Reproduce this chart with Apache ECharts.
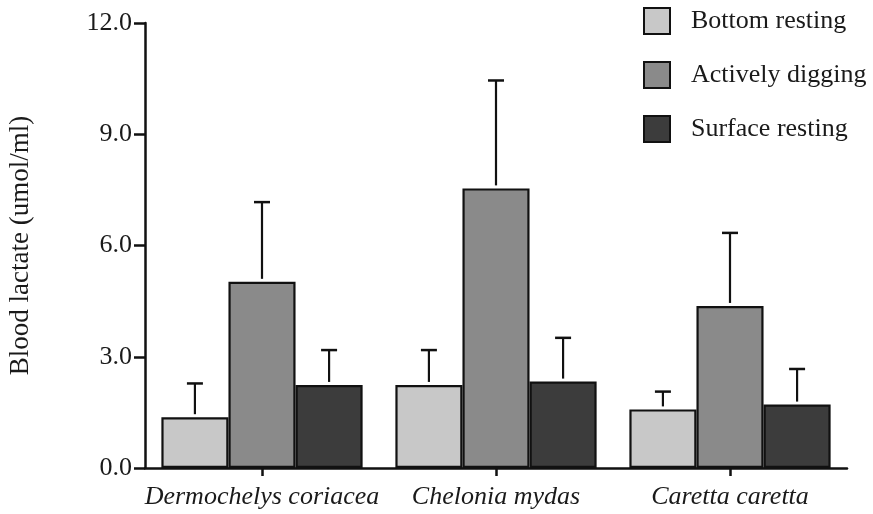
<!DOCTYPE html>
<html>
<head>
<meta charset="utf-8">
<script src="https://cdn.jsdelivr.net/npm/echarts@6/dist/echarts.min.js"></script>
<style>html,body{margin:0;padding:0;background:#fff;}#c{width:873px;height:514px;}</style>
</head>
<body>
<div id="c"></div>
<script>
const categories = ['Dermochelys coriacea', 'Chelonia mydas', 'Caretta caretta'];
const seriesNames = ['Bottom resting', 'Actively digging', 'Surface resting'];
const bottomResting = [1.37, 2.24, 1.58];
const activelyDigging = [5.02, 7.54, 4.37];
const surfaceResting = [2.24, 2.33, 1.71];
const bottomSD = [0.91, 0.94, 0.48];
const activeSD = [2.15, 2.91, 1.97];
const surfaceSD = [0.94, 1.18, 0.96];
const yTicks = [0, 3, 6, 9, 12];

const colors = ['#c8c8c8', '#8a8a8a', '#3c3c3c'];
const means = [bottomResting, activelyDigging, surfaceResting];
const sds = [bottomSD, activeSD, surfaceSD];
const FONT = '"Liberation Serif", "DejaVu Serif", serif';
const GAP = 0.14;

const chart = echarts.init(document.getElementById('c'));

const barSeries = seriesNames.map((n, i) => ({
  name: n,
  type: 'bar',
  data: means[i],
  barGap: '0%',
  barCategoryGap: (GAP * 100) + '%',
  itemStyle: { color: colors[i], borderColor: '#111', borderWidth: 2.2 },
  z: 2
}));

const errSeries = seriesNames.map((n, i) => ({
  type: 'custom',
  z: 3,
  silent: true,
  data: categories.map((c, k) => [k, means[i][k], means[i][k] + sds[i][k]]),
  renderItem: function (params, api) {
    const k = api.value(0);
    const base = api.coord([k, api.value(1)]);
    const top = api.coord([k, api.value(2)]);
    const band = api.size([1, 0])[0];
    const bw = band * (1 - GAP) / 3;
    const x = base[0] + (i - 1) * bw;
    const hw = 8;
    return {
      type: 'group',
      children: [
        { type: 'line', shape: { x1: x, y1: base[1] - 3, x2: x, y2: top[1] }, style: { stroke: '#111', lineWidth: 2.2 } },
        { type: 'line', shape: { x1: x - hw, y1: top[1], x2: x + hw, y2: top[1] }, style: { stroke: '#111', lineWidth: 2.5 } }
      ]
    };
  }
}));

chart.setOption({
  animation: false,
  backgroundColor: '#fff',
  grid: { left: 145, right: 26, top: 23, bottom: 46, containLabel: false, outerBoundsMode: 'none' },
  legend: {
    orient: 'vertical',
    left: 643,
    top: 7,
    padding: 0,
    itemWidth: 26,
    itemHeight: 26,
    itemGap: 26,
    icon: 'rect',
    data: seriesNames,
    textStyle: { fontFamily: FONT, fontSize: 26, color: '#1a1a1a', padding: [0, 0, 0, 16] }
  },
  xAxis: {
    type: 'category',
    data: categories,
    axisLine: { lineStyle: { color: '#111', width: 2.5 } },
    axisTick: { show: true, alignWithLabel: true, length: 8, lineStyle: { color: '#111', width: 2.5 } },
    axisLabel: { interval: 0, fontFamily: FONT, fontStyle: 'italic', fontSize: 26, color: '#1a1a1a', margin: 16 }
  },
  yAxis: {
    type: 'value',
    min: yTicks[0],
    max: yTicks[yTicks.length - 1],
    interval: 3,
    name: 'Blood lactate (umol/ml)',
    nameLocation: 'middle',
    nameGap: 111,
    nameTextStyle: { fontFamily: FONT, fontSize: 27, color: '#1a1a1a' },
    axisLine: { show: true, lineStyle: { color: '#111', width: 2.5 } },
    axisTick: { show: true, length: 11, lineStyle: { color: '#111', width: 2.5 } },
    splitLine: { show: false },
    axisLabel: { fontFamily: FONT, fontSize: 26, color: '#1a1a1a', margin: 13, formatter: v => v.toFixed(1) }
  },
  series: barSeries.concat(errSeries)
});
</script>
</body>
</html>
